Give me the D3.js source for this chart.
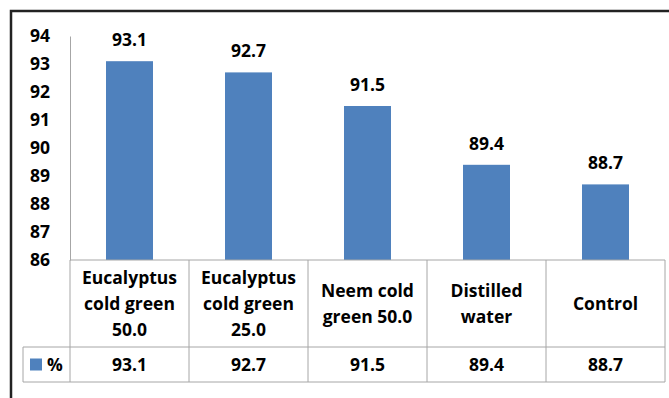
<!DOCTYPE html>
<html>
<head>
<meta charset="utf-8">
<script src="https://cdn.jsdelivr.net/npm/d3@7"></script>
<style>
  html, body { margin: 0; padding: 0; background: #fff; }
  svg { display: block; font-family: "Open Sans", Lato, sans-serif; font-weight: bold; }
</style>
</head>
<body>
<svg id="chart" width="669" height="398"></svg>
<script>
// Treatment categories (multi-line labels) and their percentages
const categories = [
  ["Eucalyptus", "cold green", "50.0"],
  ["Eucalyptus", "cold green", "25.0"],
  ["Neem cold", "green 50.0"],
  ["Distilled", "water"],
  ["Control"]
];
const values = [93.1, 92.7, 91.5, 89.4, 88.7];
const yTicks = [86, 87, 88, 89, 90, 91, 92, 93, 94];
const seriesName = "%";

const svg = d3.select("#chart");
const W = 669, H = 398;
const FONT = "'Open Sans', Lato, sans-serif";
const FS = 17.5;

const plotLeft = 70, plotRight = 665, plotTop = 36, plotBottom = 260;
const row1Bottom = 347, row2Bottom = 382, legendLeft = 23;
const blue = "#4f81bd", grid = "#a6a6a6";

// outer frame
svg.append("rect")
  .attr("x", 11).attr("y", 11).attr("width", W + 20).attr("height", H + 20)
  .attr("fill", "none").attr("stroke", "#222").attr("stroke-width", 2.5);

const x = d3.scaleBand().domain(d3.range(values.length))
  .range([plotLeft, plotRight]).paddingInner(0).paddingOuter(0);
const y = d3.scaleLinear().domain([86, 94]).range([plotBottom, plotTop]);

// y axis
const yAxis = d3.axisLeft(y).tickValues(yTicks).tickSize(0).tickPadding(20).tickFormat(d3.format("d"));
const ya = svg.append("g").attr("transform", `translate(${plotLeft},0)`).call(yAxis);
ya.select(".domain").attr("stroke", grid).attr("stroke-width", 1);
ya.selectAll("text").attr("font-size", FS).attr("font-weight", "bold")
  .attr("font-family", FONT).attr("fill", "#000");

// bars
const barW = 47;
svg.append("g").selectAll("rect").data(values).join("rect")
  .attr("x", (d, i) => x(i) + x.bandwidth() / 2 - barW / 2)
  .attr("width", barW)
  .attr("y", d => y(d))
  .attr("height", d => y(86) - y(d))
  .attr("fill", blue);

// value labels above bars
svg.append("g").selectAll("text").data(values).join("text")
  .attr("x", (d, i) => x(i) + x.bandwidth() / 2)
  .attr("y", d => y(d) - 15)
  .attr("text-anchor", "middle")
  .attr("font-size", FS)
  .attr("fill", "#000")
  .text(d => d.toFixed(1));

// data table grid
const g = svg.append("g").attr("stroke", grid).attr("stroke-width", 1).attr("fill", "none");
g.append("line").attr("x1", plotLeft).attr("x2", plotRight).attr("y1", plotBottom).attr("y2", plotBottom);
g.append("line").attr("x1", legendLeft).attr("x2", plotRight).attr("y1", row1Bottom).attr("y2", row1Bottom);
g.append("line").attr("x1", legendLeft).attr("x2", plotRight).attr("y1", row2Bottom).attr("y2", row2Bottom);
g.append("line").attr("x1", legendLeft).attr("x2", legendLeft).attr("y1", row1Bottom).attr("y2", row2Bottom);
d3.range(values.length + 1).forEach(i => {
  const xx = i < values.length ? x(i) : plotRight;
  g.append("line").attr("x1", xx).attr("x2", xx).attr("y1", plotBottom).attr("y2", row2Bottom);
});

// category labels
const lineH = 26;
const rowMid = (plotBottom + row1Bottom) / 2;
categories.forEach((lines, i) => {
  const t = svg.append("text")
    .attr("x", x(i) + x.bandwidth() / 2)
    .attr("text-anchor", "middle")
    .attr("font-size", FS)
    .attr("fill", "#000");
  lines.forEach((s, k) => {
    t.append("tspan")
      .attr("x", x(i) + x.bandwidth() / 2)
      .attr("y", rowMid + (k - (lines.length - 1) / 2) * lineH)
      .attr("dy", "0.35em")
      .text(s);
  });
});

// value row
const valMid = (row1Bottom + row2Bottom) / 2;
svg.append("g").selectAll("text").data(values).join("text")
  .attr("x", (d, i) => x(i) + x.bandwidth() / 2)
  .attr("y", valMid).attr("dy", "0.35em")
  .attr("text-anchor", "middle").attr("font-size", FS).attr("fill", "#000")
  .text(d => d.toFixed(1));

// legend key
svg.append("rect").attr("x", 30).attr("y", valMid - 6).attr("width", 12).attr("height", 12).attr("fill", blue);
svg.append("text").attr("x", 47).attr("y", valMid).attr("dy", "0.35em")
  .attr("font-size", FS).attr("fill", "#000").text(seriesName);
</script>
</body>
</html>
